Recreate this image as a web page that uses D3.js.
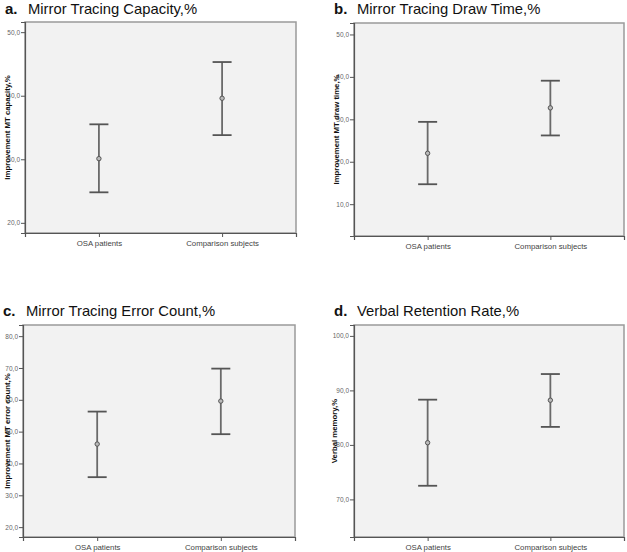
<!DOCTYPE html>
<html>
<head>
<meta charset="utf-8">
<script src="https://cdn.jsdelivr.net/npm/d3@7"></script>
<style>
  html, body { margin: 0; padding: 0; background: #fff; }
  svg { display: block; font-family: "Liberation Sans", Arial, sans-serif; }
</style>
</head>
<body>
<svg id="chart" width="627" height="552"></svg>
<script>
// ---- data ----
const categories = ["OSA patients", "Comparison subjects"];
const panelLetters = ["a.", "b.", "c.", "d."];
const panelTitles = [
  "Mirror Tracing Capacity,%",
  "Mirror Tracing Draw Time,%",
  "Mirror Tracing Error Count,%",
  "Verbal Retention Rate,%"
];
const yLabels = [
  "Improvement MT capacity,%",
  "Improvement MT draw time,%",
  "Improvement MT error count,%",
  "Verbal memory,%"
];
const meanA = [30.1, 39.6], lowerA = [24.8, 33.8], upperA = [35.5, 45.3];
const meanB = [22.0, 32.7], lowerB = [14.7, 26.2], upperB = [29.4, 39.1];
const meanC = [46.1, 59.6], lowerC = [35.7, 49.2], upperC = [56.3, 69.8];
const meanD = [80.4, 88.2], lowerD = [72.5, 83.3], upperD = [88.3, 93.0];
const ticksA = [20, 30, 40, 50];
const ticksB = [10, 20, 30, 40, 50];
const ticksC = [20, 30, 40, 50, 60, 70, 80];
const ticksD = [70, 80, 90, 100];
const domainA = [18.4, 51.6];
const domainB = [2.5, 52.7];
const domainC = [16.9, 83.5];
const domainD = [63.1, 102.0];

// ---- layout ----
const frames = [
  {x0: 25, x1: 296, y0: 22, y1: 233, titleY: 13.5, labelX: 9.5},
  {x0: 354, x1: 624, y0: 23, y1: 236, titleY: 13.5, labelX: 339},
  {x0: 23, x1: 295, y0: 325, y1: 537, titleY: 315.5, labelX: 9.5},
  {x0: 354, x1: 624, y0: 325, y1: 537, titleY: 315.5, labelX: 337}
];
const panels = [
  {mean: meanA, lower: lowerA, upper: upperA, ticks: ticksA, domain: domainA},
  {mean: meanB, lower: lowerB, upper: upperB, ticks: ticksB, domain: domainB},
  {mean: meanC, lower: lowerC, upper: upperC, ticks: ticksC, domain: domainC},
  {mean: meanD, lower: lowerD, upper: upperD, ticks: ticksD, domain: domainD}
];

const svg = d3.select("#chart");
const fmt = v => d3.format(".1f")(v).replace(".", ",");

panels.forEach((p, i) => {
  const f = frames[i];
  const g = svg.append("g");
  const x = d3.scalePoint().domain(categories).range([f.x0, f.x1]).padding(0.6);
  const y = d3.scaleLinear().domain(p.domain).range([f.y1, f.y0]);

  // title
  g.append("text").attr("x", f.x0 - 20).attr("y", f.titleY)
    .attr("font-size", 15).attr("font-weight", "bold").attr("fill", "#111")
    .text(panelLetters[i]);
  g.append("text").attr("x", f.x0 + 3).attr("y", f.titleY)
    .attr("font-size", 14.8).attr("fill", "#111")
    .text(panelTitles[i]);

  // plot background
  g.append("rect").attr("x", f.x0).attr("y", f.y0)
    .attr("width", f.x1 - f.x0).attr("height", f.y1 - f.y0)
    .attr("fill", "#f2f2f2").attr("stroke", "#9a9a9a").attr("stroke-width", 1.5);

  // y axis
  const yAxis = d3.axisLeft(y).tickValues(p.ticks).tickFormat(fmt).tickSize(4).tickPadding(1);
  const ya = g.append("g").attr("transform", `translate(${f.x0},0)`).call(yAxis);
  ya.select(".domain").attr("stroke", "#555").attr("stroke-width", 1.2);
  ya.selectAll(".tick line").attr("stroke", "#555");
  ya.selectAll(".tick text").attr("font-size", 6.5).attr("fill", "#666")
    .attr("font-family", "Liberation Sans, Arial, sans-serif");

  // x axis
  const xAxis = d3.axisBottom(x).tickSize(4).tickPadding(3);
  const xa = g.append("g").attr("transform", `translate(0,${f.y1})`).call(xAxis);
  xa.select(".domain").attr("stroke", "#555").attr("stroke-width", 1.2);
  xa.selectAll(".tick line").attr("stroke", "#555");
  xa.selectAll(".tick text").attr("font-size", 7.8).attr("fill", "#444")
    .attr("font-family", "Liberation Sans, Arial, sans-serif");

  // y label
  g.append("text")
    .attr("transform", `translate(${f.labelX},${(f.y0 + f.y1) / 2}) rotate(-90)`)
    .attr("text-anchor", "middle").attr("font-size", 7.8).attr("font-weight", "bold")
    .attr("fill", "#111").text(yLabels[i]);

  // error bars
  const capW = 9.5;
  categories.forEach((c, j) => {
    const cx = x(c);
    g.append("line").attr("x1", cx).attr("x2", cx)
      .attr("y1", y(p.upper[j])).attr("y2", y(p.lower[j]))
      .attr("stroke", "#6a6a6a").attr("stroke-width", 1.8);
    [p.upper[j], p.lower[j]].forEach(v => {
      g.append("line").attr("x1", cx - capW).attr("x2", cx + capW)
        .attr("y1", y(v)).attr("y2", y(v))
        .attr("stroke", "#555").attr("stroke-width", 1.8);
    });
    g.append("circle").attr("cx", cx).attr("cy", y(p.mean[j])).attr("r", 2.2)
      .attr("fill", "#bbb").attr("stroke", "#555").attr("stroke-width", 1);
  });
});
</script>
</body>
</html>
